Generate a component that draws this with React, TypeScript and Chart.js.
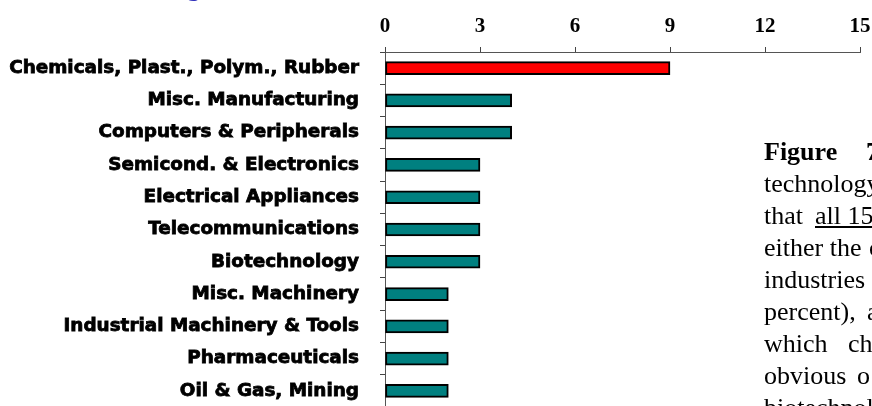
import React, { useEffect, useRef } from "react";
import { Chart, registerables } from "chart.js";

Chart.register(...registerables);

const categories = [
  "Chemicals, Plast., Polym., Rubber",
  "Misc. Manufacturing",
  "Computers & Peripherals",
  "Semicond. & Electronics",
  "Electrical Appliances",
  "Telecommunications",
  "Biotechnology",
  "Misc. Machinery",
  "Industrial Machinery & Tools",
  "Pharmaceuticals",
  "Oil & Gas, Mining",
];
const values = [9, 4, 4, 3, 3, 3, 3, 2, 2, 2, 2];
const xTickValues = [0, 3, 6, 9, 12, 15];
const highlightIndex = 0;

const TEAL = "#008080";
const RED = "#FF0000";

type Word = { x: number; text: string; bold?: boolean; underline?: boolean };
const textLines: { baseline: number; words: Word[] }[] = [
  { baseline: 161, words: [{ x: 764, text: "Figure", bold: true }, { x: 866, text: "7", bold: true }] },
  { baseline: 193, words: [{ x: 764, text: "technology" }] },
  { baseline: 225, words: [{ x: 764, text: "that" }, { x: 815, text: "all 15", underline: true }] },
  { baseline: 257, words: [{ x: 764, text: "either the" }, { x: 869, text: "c" }] },
  { baseline: 289, words: [{ x: 764, text: "industries" }] },
  { baseline: 321, words: [{ x: 764, text: "percent)," }, { x: 867, text: "a" }] },
  { baseline: 353, words: [{ x: 764, text: "which" }, { x: 848, text: "ch" }] },
  { baseline: 385, words: [{ x: 764, text: "obvious" }, { x: 857, text: "o" }] },
  { baseline: 417, words: [{ x: 764, text: "biotechnol" }] },
];

export default function App() {
  const ref = useRef<HTMLCanvasElement | null>(null);

  useEffect(() => {
    if (!ref.current) return;
    const chart = new Chart(ref.current, {
      type: "bar",
      data: {
        labels: categories,
        datasets: [
          {
            data: values,
            backgroundColor: values.map((_, i) => (i === highlightIndex ? RED : TEAL)),
            borderColor: "#000000",
            borderWidth: 2,
            borderSkipped: false,
            barThickness: 13,
          },
        ],
      },
      options: {
        indexAxis: "y",
        responsive: false,
        animation: false,
        layout: { padding: { left: 0, top: 0, right: 12, bottom: 13 } },
        plugins: { legend: { display: false }, tooltip: { enabled: false }, title: { display: false } },
        scales: {
          x: {
            type: "linear",
            position: "top",
            min: 0,
            max: 15,
            afterBuildTicks: (scale: any) => {
              scale.ticks = xTickValues.map((v) => ({ value: v }));
            },
            afterFit: (scale: any) => {
              scale.height = 52;
              scale.paddingLeft = 0;
              scale.paddingRight = 0;
            },
            border: { display: true, color: "#555555", width: 1 },
            grid: { drawOnChartArea: false, drawTicks: true, tickLength: 5, color: "#444444" },
            ticks: {
              color: "#000000",
              padding: 8,
              maxRotation: 0,
              font: { family: "'Liberation Serif', 'Times New Roman', serif", size: 21, weight: "bold" },
            },
          },
          y: {
            type: "category",
            offset: true,
            afterFit: (scale: any) => {
              scale.width = 385;
              scale.paddingTop = 0;
              scale.paddingBottom = 0;
            },
            border: { display: true, color: "#555555", width: 1 },
            grid: { drawOnChartArea: false, drawTicks: true, tickLength: 5, offset: true, color: "#444444" },
            ticks: {
              color: "#000000",
              padding: 21,
              autoSkip: false,
              textStrokeColor: "#000000",
              textStrokeWidth: 0.8,
              font: { family: "'DejaVu Sans', Arial, sans-serif", size: 18.4, weight: "bold" },
            },
          },
        },
      },
    });
    return () => chart.destroy();
  }, []);

  return (
    <div
      style={{
        position: "fixed",
        left: 0,
        top: 0,
        width: 872,
        height: 406,
        overflow: "hidden",
        background: "#ffffff",
      }}
    >
      <canvas ref={ref} width={872} height={420} style={{ position: "absolute", left: 0, top: 0, width: 872, height: 420 }} />
      <div
        style={{
          position: "absolute",
          left: 187,
          top: -25,
          fontFamily: "'Liberation Serif', 'Times New Roman', serif",
          fontWeight: "bold",
          fontSize: 26,
          lineHeight: "26px",
          color: "#3333bb",
          whiteSpace: "pre",
        }}
      >
        g
      </div>
      {textLines.map((line, li) =>
        line.words.map((w, wi) => (
          <div
            key={li + "-" + wi}
            style={{
              position: "absolute",
              left: w.x,
              top: line.baseline - 22,
              fontFamily: "'Liberation Serif', 'Times New Roman', serif",
              fontSize: 26,
              lineHeight: "26px",
              fontWeight: w.bold ? "bold" : "normal",
              textDecoration: w.underline ? "underline" : "none",
              color: "#000000",
              whiteSpace: "pre",
            }}
          >
            {w.text}
          </div>
        ))
      )}
    </div>
  );
}
